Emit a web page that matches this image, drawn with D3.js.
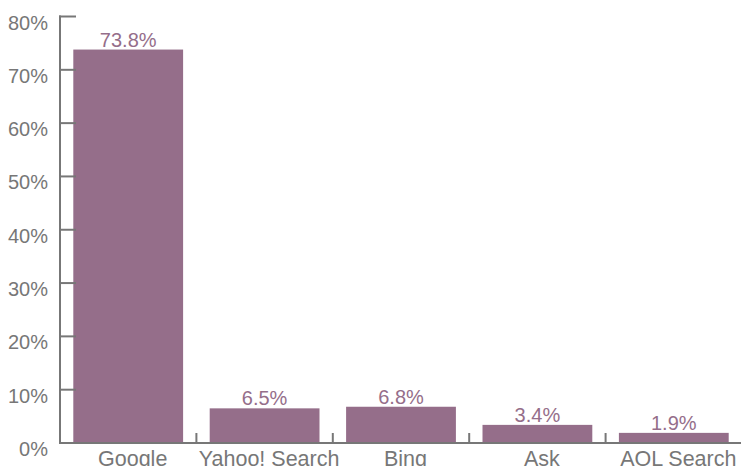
<!DOCTYPE html>
<html>
<head>
<meta charset="utf-8">
<script src="https://cdn.jsdelivr.net/npm/d3@7"></script>
<style>
  html, body { margin: 0; padding: 0; background: #fff; }
  svg { display: block; font-family: "Liberation Sans", Arial, sans-serif; }
</style>
</head>
<body>
<svg id="chart" width="741" height="466"></svg>
<script>
// Search engine market share
const engines = ["Google", "Yahoo! Search", "Bing", "Ask", "AOL Search"];
const shares = [73.8, 6.5, 6.8, 3.4, 1.9];
const yTicks = [0, 10, 20, 30, 40, 50, 60, 70, 80];

const barColor = "#956e8a";
const axisColor = "#777777";
const textColor = "#777777";

const svg = d3.select("#chart");
const plotLeft = 60, plotRight = 742, plotTop = 16.5, plotBottom = 443;

const x = d3.scaleBand()
  .domain(engines)
  .range([plotLeft, plotRight])
  .paddingInner(0.195)
  .paddingOuter(0.0975);

const y = d3.scaleLinear().domain([0, 80]).range([plotBottom, plotTop]);

// bars
svg.append("g").selectAll("rect")
  .data(engines)
  .join("rect")
  .attr("x", d => x(d))
  .attr("width", x.bandwidth())
  .attr("y", (d, i) => y(shares[i]))
  .attr("height", (d, i) => y(0) - y(shares[i]))
  .attr("fill", barColor);

// value labels
svg.append("g").selectAll("text")
  .data(engines)
  .join("text")
  .attr("x", d => x(d) + x.bandwidth() / 2)
  .attr("y", (d, i) => y(shares[i]) - 3)
  .attr("text-anchor", "middle")
  .attr("font-size", 20)
  .attr("fill", barColor)
  .text((d, i) => shares[i].toFixed(1) + "%");

// y axis: ticks point inward, labels hang just below each tick
const yAxis = svg.append("g");
yAxis.append("line")
  .attr("x1", plotLeft).attr("x2", plotLeft)
  .attr("y1", y(80) - 1).attr("y2", plotBottom + 1)
  .attr("stroke", axisColor).attr("stroke-width", 2);
yAxis.selectAll("line.tick")
  .data(yTicks)
  .join("line")
  .attr("class", "tick")
  .attr("x1", plotLeft - 1).attr("x2", plotLeft + 16)
  .attr("y1", d => y(d)).attr("y2", d => y(d))
  .attr("stroke", axisColor).attr("stroke-width", 2);
yAxis.selectAll("text")
  .data(yTicks)
  .join("text")
  .attr("x", 48)
  .attr("y", d => y(d) + 13)
  .attr("text-anchor", "end")
  .attr("font-size", 20)
  .attr("fill", textColor)
  .text(d => d + "%");

// x axis: baseline with separators between categories
const step = x.step();
const xAxis = svg.append("g");
xAxis.append("line")
  .attr("x1", plotLeft - 1).attr("x2", 741)
  .attr("y1", plotBottom).attr("y2", plotBottom)
  .attr("stroke", axisColor).attr("stroke-width", 2);
xAxis.selectAll("line.sep")
  .data(engines.slice(1))
  .join("line")
  .attr("class", "sep")
  .attr("x1", d => x(d) - x.paddingInner() * step / 2)
  .attr("x2", d => x(d) - x.paddingInner() * step / 2)
  .attr("y1", plotBottom).attr("y2", plotBottom - 10)
  .attr("stroke", axisColor).attr("stroke-width", 2);
xAxis.selectAll("text")
  .data(engines)
  .join("text")
  .attr("x", d => x(d) + x.bandwidth() / 2 + 4.5)
  .attr("y", 465.5)
  .attr("text-anchor", "middle")
  .attr("font-size", 21.5)
  .attr("fill", textColor)
  .text(d => d);
</script>
</body>
</html>
